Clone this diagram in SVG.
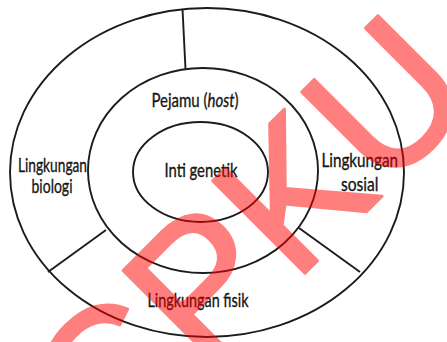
<svg xmlns="http://www.w3.org/2000/svg" width="447" height="342" viewBox="0 0 447 342">
  <style>
    .ring { fill: none; stroke: #1c1c1c; stroke-width: 1.9; }
    .div { stroke: #1c1c1c; stroke-width: 1.9; fill: none; }
    .lbl { font-family: Lato, "Open Sans", sans-serif; font-size: 19.5px; fill: #161616; stroke: #161616; stroke-width: 0.35; }
    .mark { font-family: "Liberation Sans", Arial, sans-serif; font-size: 190px; fill: #ff0000; stroke: #ff0000; stroke-width: 3; stroke-linejoin: round; }
  </style>
  <rect width="447" height="342" fill="#ffffff"/>

  <!-- layered ellipses -->
  <g id="outer-ring">
    <ellipse class="ring" cx="207" cy="172.5" rx="197" ry="164.5"/>
  </g>
  <g id="host-ring">
    <ellipse class="ring" cx="203" cy="170.5" rx="115" ry="102.5"/>
  </g>
  <g id="core">
    <ellipse class="ring" cx="200.5" cy="172" rx="67.5" ry="50"/>
  </g>

  <!-- sector dividers of the outer ring -->
  <g id="connectors">
    <line class="div" x1="182.5" y1="9" x2="185.5" y2="69"/>
    <line class="div" x1="48" y1="272" x2="106" y2="230"/>
    <line class="div" x1="299" y1="228" x2="360" y2="272"/>
  </g>

  <!-- labels -->
  <g id="label-host">
    <text class="lbl" x="151.5" y="107" textLength="87" lengthAdjust="spacingAndGlyphs">Pejamu (<tspan font-style="italic">host</tspan>)</text>
  </g>
  <g id="label-core">
    <text class="lbl" x="164.5" y="177" textLength="73" lengthAdjust="spacingAndGlyphs">Inti genetik</text>
  </g>
  <g id="label-bio">
    <text class="lbl" x="18" y="172" textLength="69" lengthAdjust="spacingAndGlyphs">Lingkungan</text>
    <text class="lbl" x="31.5" y="193" textLength="41" lengthAdjust="spacingAndGlyphs">biologi</text>
  </g>
  <g id="label-social">
    <text class="lbl" x="321.5" y="167" textLength="76.5" lengthAdjust="spacingAndGlyphs">Lingkungan</text>
    <text class="lbl" x="341" y="191" textLength="37.5" lengthAdjust="spacingAndGlyphs">sosial</text>
  </g>
  <g id="label-physical">
    <text class="lbl" x="147.5" y="307" textLength="101" lengthAdjust="spacingAndGlyphs">Lingkungan fisik</text>
  </g>

  <!-- diagonal stamp, composited once at half strength -->
  <g id="watermark" opacity="0.5">
    <text class="mark" x="-257" y="409" transform="rotate(-45)">CPKU</text>
  </g>
</svg>
